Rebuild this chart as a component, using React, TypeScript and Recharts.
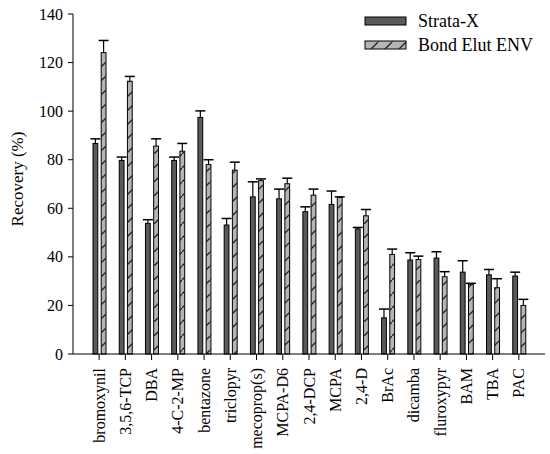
import React from 'react';
import { BarChart, Bar, XAxis, YAxis } from 'recharts';

const categories = ['bromoxynil', '3,5,6-TCP', 'DBA', '4-C-2-MP', 'bentazone', 'triclopyr', 'mecoprop(s)', 'MCPA-D6', '2,4-DCP', 'MCPA', '2,4-D', 'BrAc', 'dicamba', 'fluroxypyr', 'BAM', 'TBA', 'PAC'];
const strataX = [86.7, 79.7, 53.8, 79.7, 97.4, 53.1, 64.7, 63.9, 58.6, 61.6, 51.5, 14.9, 38.7, 39.5, 33.7, 32.6, 32.1];
const strataXErr = [1.9, 1.4, 1.5, 1.4, 2.7, 2.7, 6.2, 4.0, 2.0, 5.5, 0.6, 3.6, 3.0, 2.6, 4.7, 2.2, 1.6];
const bondElut = [124.1, 112.3, 85.6, 83.5, 78.0, 75.7, 71.4, 70.1, 65.4, 64.5, 56.9, 41.0, 38.9, 31.8, 28.7, 27.3, 20.0];
const bondElutErr = [5.0, 2.0, 3.0, 3.2, 2.0, 3.3, 0.7, 2.3, 2.5, 0.2, 2.6, 2.2, 1.4, 2.1, 0.4, 3.7, 2.5];
const yTicks = [0, 20, 40, 60, 80, 100, 120, 140];
const seriesNames = ['Strata-X', 'Bond Elut ENV'];
const yLabel = 'Recovery (%)';

const data = categories.map((name, i) => ({
  name,
  s: strataX[i],
  sErr: strataXErr[i],
  b: bondElut[i],
  bErr: bondElutErr[i],
}));

const FONT = 'Liberation Serif';
const DARK = '#5a5a5a';
const LIGHT = '#b5b5b5';

const makeShape = (valKey: string, errKey: string, fill: string, hatch: boolean) => (props: any) => {
  const { x, y, width, height, payload } = props;
  const v = payload[valKey];
  const err = payload[errKey];
  const pxPer = v ? height / v : 0;
  const cx = x + width / 2;
  const top = y - err * pxPer;
  return (
    <g>
      <rect x={x} y={y} width={width} height={height} fill={fill} stroke="#000" strokeWidth={1} />
      {hatch && <rect x={x} y={y} width={width} height={height} fill="url(#hatch)" stroke="none" />}
      <line x1={cx} y1={y} x2={cx} y2={top} stroke="#000" strokeWidth={1.2} />
      <line x1={cx - 5} y1={top} x2={cx + 5} y2={top} stroke="#000" strokeWidth={1.5} />
    </g>
  );
};

const XTick = (props: any) => {
  const { x, y, payload } = props;
  return (
    <g transform={`translate(${x},${y})`}>
      <text x={-6} y={0} dy={5.5} textAnchor="end" transform="rotate(-90)" fontSize={16} fill="#000" style={{ fontFamily: FONT }}>
        {payload.value}
      </text>
    </g>
  );
};

const YTick = (props: any) => {
  const { x, y, payload } = props;
  return (
    <text x={x} y={y} dy={5.5} textAnchor="end" fontSize={16} fill="#000" style={{ fontFamily: FONT }}>
      {payload.value}
    </text>
  );
};

const YLabel = (props: any) => {
  const { viewBox } = props;
  const cy = viewBox.y + viewBox.height / 2 - 5;
  const cx = 23;
  return (
    <text x={cx} y={cy} transform={`rotate(-90, ${cx}, ${cy})`} textAnchor="middle" fontSize={17} fill="#000" style={{ fontFamily: FONT }}>
      {yLabel}
    </text>
  );
};

export default function App() {
  return (
    <div style={{ position: 'absolute', left: 0, top: 0, width: 550, height: 454, background: '#fff', fontFamily: FONT }}>
      <svg width={550} height={454} style={{ position: 'absolute', left: 0, top: 0, pointerEvents: 'none', zIndex: 2 }}>
        <defs>
          <pattern id="hatch" patternUnits="userSpaceOnUse" width={14} height={14}>
            <line x1={0} y1={14} x2={14} y2={0} stroke="#222" strokeWidth={1.3} />
          </pattern>
        </defs>
        <rect x={365} y={17} width={41} height={8} fill={DARK} stroke="#000" strokeWidth={1} />
        <text x={418} y={27} fontSize={18} style={{ fontFamily: FONT }} fill="#000">{seriesNames[0]}</text>
        <rect x={365} y={41} width={41} height={8} fill={LIGHT} stroke="#000" strokeWidth={1} />
        <rect x={365} y={41} width={41} height={8} fill="url(#hatch)" stroke="none" />
        <text x={418} y={51} fontSize={18} style={{ fontFamily: FONT }} fill="#000">{seriesNames[1]}</text>
      </svg>
      <BarChart
        width={550}
        height={454}
        data={data}
        margin={{ top: 14, right: 5, bottom: 0, left: 0 }}
        barSize={4.8}
        barGap={3.4}
        style={{ fontFamily: FONT }}
      >
        <XAxis
          dataKey="name"
          interval={0}
          height={100}
          padding={{ left: 13, right: 13 }}
          axisLine={{ stroke: '#000' }}
          tickLine={{ stroke: '#000' }}
          tickSize={6}
          tickMargin={2}
          tick={<XTick />}
        />
        <YAxis
          width={73}
          domain={[0, 140]}
          ticks={yTicks}
          interval={0}
          axisLine={{ stroke: '#000' }}
          tickLine={{ stroke: '#000' }}
          tickSize={5}
          tickMargin={5}
          tick={<YTick />}
          label={<YLabel />}
        />
        <Bar dataKey="s" name={seriesNames[0]} isAnimationActive={false} shape={makeShape('s', 'sErr', DARK, false)} />
        <Bar dataKey="b" name={seriesNames[1]} isAnimationActive={false} shape={makeShape('b', 'bErr', LIGHT, true)} />
      </BarChart>
    </div>
  );
}
